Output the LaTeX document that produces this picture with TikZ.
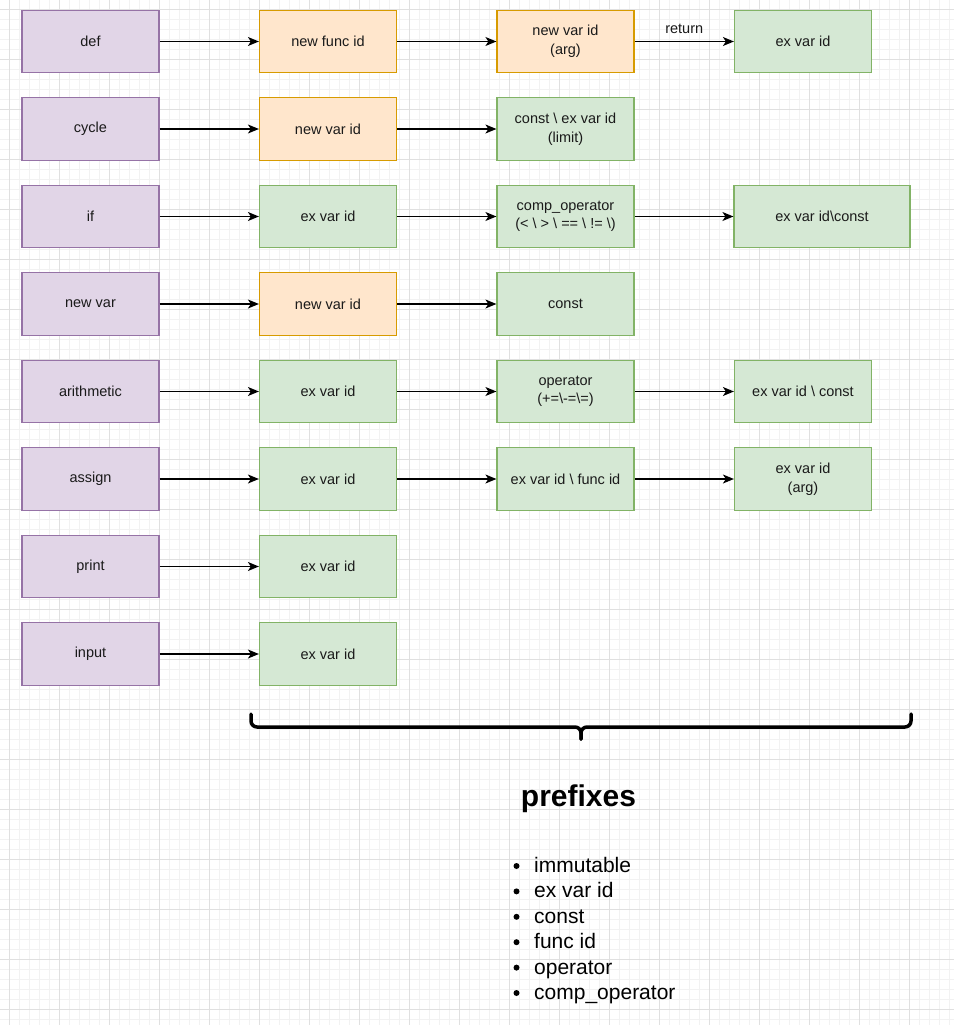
\documentclass[tikz,border=0pt]{standalone}
\usepackage{fontspec}
\setmainfont{Liberation Sans}
\usetikzlibrary{arrows.meta}
\definecolor{pfill}{HTML}{E1D5E7}\definecolor{pline}{HTML}{9673A6}
\definecolor{ofill}{HTML}{FFE6CC}\definecolor{oline}{HTML}{D79B00}
\definecolor{gfill}{HTML}{D5E8D4}\definecolor{gline}{HTML}{82B366}
\definecolor{gminor}{HTML}{F2F2F2}\definecolor{gmajor}{HTML}{E0E0E0}
\definecolor{txt}{HTML}{1A1A1A}
\tikzset{
  box/.style={rectangle, line width=1.2pt, minimum width=137pt, minimum height=62.5pt, inner sep=2pt, align=center, font=\fontsize{14.5}{18.5}\selectfont, text=txt},
  pbox/.style={box, fill=pfill, draw=pline},
  obox/.style={box, fill=ofill, draw=oline},
  gbox/.style={box, fill=gfill, draw=gline},
  link/.style={line width=1.3pt, -{Stealth[length=11pt,width=9pt,inset=3pt]}},
  bracestyle/.style={line width=3.5pt, line cap=round, line join=round, rounded corners=6pt},
  bullettext/.style={anchor=base west, inner sep=0pt, font=\fontsize{21}{25}\selectfont},
  bulletdot/.style={circle, fill=black, inner sep=0pt, minimum size=6pt},
}
\begin{document}
\begin{tikzpicture}[x=1pt,y=-1pt]
\useasboundingbox[fill=white] (0,0) rectangle (954,1025);
\foreach \v in {-0.5,9.5,...,960} {
  \draw[gminor, line width=0.8pt] (\v,0) -- (\v,1025);
}
\foreach \v in {-0.5,9.5,...,1030} {
  \draw[gminor, line width=0.8pt] (0,\v) -- (954,\v);
}
\foreach \v in {9.5,59.5,...,960} {
  \draw[gmajor, line width=1pt] (\v,0) -- (\v,1025);
}
\foreach \v in {9.5,59.5,...,1030} {
  \draw[gmajor, line width=1pt] (0,\v) -- (954,\v);
}

% row 1
\node[pbox] (def) at (90.5,41.5) {def};
\node[obox] (def2) at (328,41.5) {new func id};
\node[obox] (def3) at (565.5,41.5) {new var id\\(arg)};
\node[gbox] (def4) at (803,41.5) {ex var id};
% row 2
\node[pbox] (cyc) at (90.5,129) {cycle};
\node[obox] (cyc2) at (328,129) {new var id};
\node[gbox] (cyc3) at (565.5,129) {const \textbackslash{} ex var id\\(limit)};
% row 3
\node[pbox] (if) at (90.5,216.5) {if};
\node[gbox] (if2) at (328,216.5) {ex var id};
\node[gbox] (if3) at (565.5,216.5) {comp\_operator\\(< \textbackslash{} > \textbackslash{} == \textbackslash{} != \textbackslash)};
\node[gbox, minimum width=176pt] (if4) at (822,216.5) {ex var id\textbackslash const};
% row 4
\node[pbox] (nv) at (90.5,304) {new var};
\node[obox] (nv2) at (328,304) {new var id};
\node[gbox] (nv3) at (565.5,304) {const};
% row 5
\node[pbox] (ar) at (90.5,391.5) {arithmetic};
\node[gbox] (ar2) at (328,391.5) {ex var id};
\node[gbox] (ar3) at (565.5,391.5) {operator\\(+=\textbackslash-=\textbackslash=)};
\node[gbox] (ar4) at (803,391.5) {ex var id \textbackslash{} const};
% row 6
\node[pbox] (as) at (90.5,479) {assign};
\node[gbox] (as2) at (328,479) {ex var id};
\node[gbox] (as3) at (565.5,479) {ex var id \textbackslash{} func id};
\node[gbox] (as4) at (803,479) {ex var id\\(arg)};
% row 7
\node[pbox] (pr) at (90.5,566.5) {print};
\node[gbox] (pr2) at (328,566.5) {ex var id};
% row 8
\node[pbox] (in) at (90.5,654) {input};
\node[gbox] (in2) at (328,654) {ex var id};

\draw[link] (def) -- (def2);
\draw[link] (def2) -- (def3);
\draw[link] (def3) -- node[above=4pt, font=\fontsize{14.5}{17}\selectfont, text=txt] (ret) {return} (def4);
\draw[link] (cyc) -- (cyc2);
\draw[link] (cyc2) -- (cyc3);
\draw[link] (if) -- (if2);
\draw[link] (if2) -- (if3);
\draw[link] (if3) -- (if4);
\draw[link] (nv) -- (nv2);
\draw[link] (nv2) -- (nv3);
\draw[link] (ar) -- (ar2);
\draw[link] (ar2) -- (ar3);
\draw[link] (ar3) -- (ar4);
\draw[link] (as) -- (as2);
\draw[link] (as2) -- (as3);
\draw[link] (as3) -- (as4);
\draw[link] (pr) -- (pr2);
\draw[link] (in) -- (in2);

% brace
\coordinate (bl) at (251,714);
\coordinate (br) at (911,714);
\coordinate (bt) at (581,739);
\draw[bracestyle] (bl) -- (251,727) -- (581,727) -- (bt);
\draw[bracestyle] (br) -- (911,727) -- (581,727) -- (bt);

\node[font=\bfseries\fontsize{30}{34}\selectfont, inner sep=0pt] (pref) at (578.5,799) {prefixes};

\foreach \t [count=\i] in {immutable, ex var id, const, func id, operator, comp\_operator} {
  \node[bulletdot] (b\i) at (516.5,{866+25.4*(\i-1)}) {};
  \node[bullettext] (t\i) at (534,{872.5+25.4*(\i-1)}) {\t};
}
\end{tikzpicture}
\end{document}
